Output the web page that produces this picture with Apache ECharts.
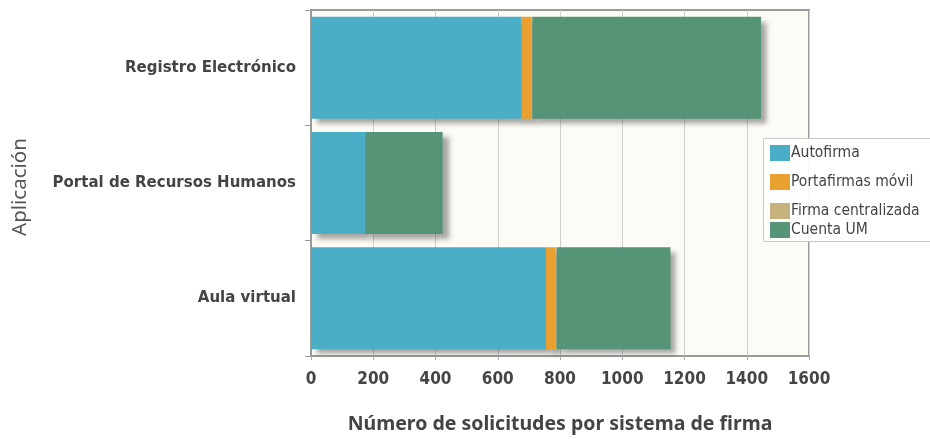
<!DOCTYPE html>
<html><head><meta charset="utf-8">
<script src="https://cdn.jsdelivr.net/npm/echarts@6/dist/echarts.min.js"></script>
<style>html,body{margin:0;padding:0;background:#fff}#c{width:930px;height:439px}</style>
</head><body><div id="c"></div>
<script>
var categories = ['Aula virtual', 'Portal de Recursos Humanos', 'Registro Electrónico'];
var autofirma = [755, 174, 677];
var portafirmas = [30, 0, 31];
var firmaCentralizada = [4, 0, 3];
var cuentaUM = [366, 249, 735];
var xTicks = {min: 0, max: 1600, interval: 200};

var colors = ['#4aafc6', '#e9a031', '#c6b27c', '#569478'];
var shadow = {shadowBlur: 5, shadowOffsetX: 6, shadowOffsetY: 5, shadowColor: 'rgba(60,60,60,0.45)'};
function mk(name, data, color) {
  return {name: name, type: 'bar', stack: 't', data: data, barWidth: 102,
    itemStyle: Object.assign({color: color}, shadow)};
}
var legText = {fontFamily: 'DejaVu Sans Condensed', fontSize: 15.5, color: '#444', padding: [0,0,0,-4]};
var chart = echarts.init(document.getElementById('c'));
chart.setOption({
  animation: false,
  grid: {left: 311, right: 121, top: 10, bottom: 77, show: true, backgroundColor: '#fdfbf5', borderColor: '#9a9a9a', borderWidth: 2},
  xAxis: {type: 'value', min: xTicks.min, max: xTicks.max, interval: xTicks.interval,
    name: 'Número de solicitudes por sistema de firma', nameLocation: 'middle', nameGap: 58,
    nameTextStyle: {fontFamily: 'Noto Sans', fontWeight: 'bold', fontSize: 19.5, color: '#444'},
    axisLine: {show: true, lineStyle: {color: '#9a9a9a', width: 2}},
    axisTick: {show: true, length: 4, lineStyle: {color: '#aaa'}},
    axisLabel: {fontFamily: 'DejaVu Sans Condensed', fontWeight: 'bold', fontSize: 17, color: '#444', margin: 15,
      formatter: function (v) { return String(v); }},
    splitLine: {show: true, lineStyle: {color: '#cfcfcf', width: 1}}},
  yAxis: {type: 'category', data: categories,
    name: 'Aplicación', nameLocation: 'middle', nameGap: 280, nameRotate: 90,
    nameTextStyle: {fontFamily: 'Noto Sans', fontSize: 20.5, color: '#555', padding: [0, 0, 0, -8]},
    axisLine: {show: true, lineStyle: {color: '#9a9a9a', width: 1}},
    axisTick: {show: true, length: 6, lineStyle: {color: '#999'}},
    axisLabel: {fontFamily: 'DejaVu Sans', fontWeight: 'bold', fontSize: 15, color: '#444', margin: 15}},
  legend: [
    {data: ['Autofirma', 'Portafirmas móvil', 'Firma centralizada'], orient: 'vertical', left: 765, top: 140, z: 6,
      itemWidth: 20, itemHeight: 16, itemGap: 13, icon: 'rect', textStyle: legText},
    {data: ['Cuenta UM'], orient: 'vertical', left: 765, top: 217, z: 6,
      itemWidth: 20, itemHeight: 16, icon: 'rect', textStyle: legText}
  ],
  graphic: [{type: 'rect', left: 763, top: 138, z: 5, shape: {width: 180, height: 103},
    style: {fill: 'rgba(255,255,255,0.92)', stroke: '#c8c8c8', lineWidth: 1}}],
  series: [
    mk('Autofirma', autofirma, colors[0]),
    mk('Portafirmas móvil', portafirmas, colors[1]),
    mk('Firma centralizada', firmaCentralizada, colors[2]),
    mk('Cuenta UM', cuentaUM, colors[3])
  ]
});
</script></body></html>
